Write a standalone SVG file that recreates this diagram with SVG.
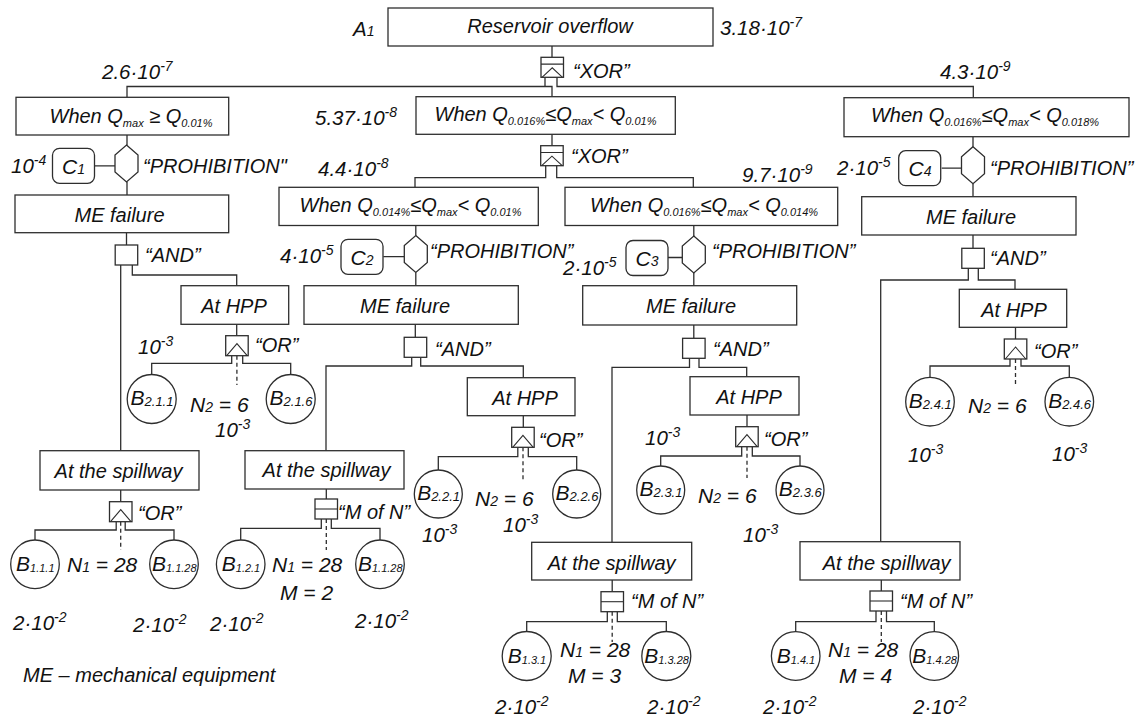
<svg xmlns="http://www.w3.org/2000/svg" xmlns:xlink="http://www.w3.org/1999/xlink" width="1141" height="719" viewBox="0 0 1141 719">
<style>
.ln{fill:none;stroke:#2e2e2e;stroke-width:1.3}
.bx{fill:#fff;stroke:#2e2e2e;stroke-width:1.3}
.gl{fill:none;stroke:#2e2e2e;stroke-width:1.1}
.dash{stroke-dasharray:4 3}
text{font-family:"Liberation Sans",Arial,sans-serif;font-style:italic;font-size:20px;fill:#111}
.n{font-size:20.5px}
.s{font-size:11px}
.sp{font-size:14px}
.bt{font-size:21px}
.bs{font-size:13px}
.bs2{font-size:11px}
.cs{font-size:14px}
.nl{font-size:21px}
</style>
<defs>
<g id="xor"><rect class="bx" width="22.5" height="20"/><path class="gl" d="M0 6.8H22.5M1 20L11.25 10.5L21.5 20"/></g>
<g id="or"><rect class="bx" width="22.5" height="20"/><path class="gl" d="M1 20L11.25 8L21.5 20"/></g>
<g id="and"><rect class="bx" width="22.5" height="20"/></g>
<g id="mofn"><rect class="bx" width="22.5" height="20"/><path class="gl" d="M0 10H22.5"/></g>
<polygon id="hex" class="bx" points="11.5,0 23,10 23,27 11.5,37 0,27 0,10"/>
<rect id="cbox" class="bx" width="42" height="35" rx="7"/>
</defs>

<g id="connectors">
<path class="ln" d="M552 46V57.3M127 97.3V86.5H552V96.7M545 77.3V86.5M557 77.3V86.5H973.3V97.7"/>
<path class="ln" d="M552 134.3V145.7M545.7 165.7V177.7H415V187.3M556.7 165.7V177.7H693.3V187.3"/>
<path class="ln" d="M127 135V145M127 182V195M126.5 232.7V245M94 165.8H115"/>
<path class="ln" d="M120.7 265V450.7M132.3 265V275H236.7V285.7"/>
<path class="ln" d="M236.7 324.3V335.7M231.7 355.7V363.3H151.7V374.5M242.7 355.7V363.3H290.7V374.5"/>
<path class="ln dash" d="M236.9 355.7V385"/>
<path class="ln" d="M120.7 490V501.7M116.2 521.7V530H35V540M125.2 521.7V530H174V540"/>
<path class="ln dash" d="M120.7 521.7V550"/>
<path class="ln" d="M415.8 225.5V235.5M415.8 272.5V285.7M415.3 324.3V337.3M383.3 256.7H404.3"/>
<path class="ln" d="M411.7 357.3V366H326V450.7M420.7 357.3V366H523.3V377.7"/>
<path class="ln" d="M523.3 415.7V427.3M517.8 447.3V456.7H438.3V470M528.3 447.3V456.7H576.7V470"/>
<path class="ln dash" d="M523 447.3V480"/>
<path class="ln" d="M326.3 489V499M321.3 519V528.3H240.7V540M331.3 519V528.3H380V540"/>
<path class="ln dash" d="M326.3 519V550"/>
<path class="ln" d="M693.8 225.5V236M693.8 273V285.7M693.8 325V338.3M667.3 257.5H682.3"/>
<path class="ln" d="M689.5 358.3V367.3H612V542.3M699 358.3V367.3H746.7V376.7"/>
<path class="ln" d="M747 415V426.7M741.7 446.7V456H660.7V466M752.3 446.7V456H800V466"/>
<path class="ln dash" d="M747 446.7V478"/>
<path class="ln" d="M612.2 580V591.7M607.3 611.7V621.7H526.7V631.5M617.3 611.7V621.7H666.3V631.5"/>
<path class="ln dash" d="M612.2 611.7V642"/>
<path class="ln" d="M973 136.7V146.7M973 183.7V196.7M973 235V248.3M941.7 168.2H961.5"/>
<path class="ln" d="M968.3 268.3V280H880.7V541.7M978.3 268.3V280H1015V289.3"/>
<path class="ln" d="M1015.5 327.3V339M1010 359V366H930V377.5M1021 359V366H1069.3V377.5"/>
<path class="ln dash" d="M1015.5 359V386.7"/>
<path class="ln" d="M881.3 580V591M876 611V621.7H795.7V631.7M886.5 611V621.7H934.3V631.7"/>
<path class="ln dash" d="M881.3 611V642"/>
</g>

<g id="top">
<rect class="bx" x="388" y="8" width="325" height="38"/>
<text x="550" y="33" text-anchor="middle">Reservoir overflow</text>
<text x="353" y="36" class="n">A<tspan class="sp">1</tspan></text>
<text x="720" y="35" class="n">3.18·10<tspan class="sp" dy="-8">-7</tspan></text>
</g>
<g id="xor1"><use href="#xor" x="541" y="57.3"/><text x="573" y="78">“XOR”</text></g>

<g id="q1">
<rect class="bx" x="16" y="97.3" width="212.7" height="37.7"/>
<text x="131" y="123" text-anchor="middle">When Q<tspan class="s" dy="4">max</tspan><tspan dy="-4"> ≥ Q</tspan><tspan class="s" dy="4">0.01%</tspan></text>
<text x="102" y="79" class="n">2.6·10<tspan class="sp" dy="-8">-7</tspan></text>
</g>
<g id="q2">
<rect class="bx" x="416" y="96.7" width="259.3" height="37.6"/>
<text x="545.5" y="121" text-anchor="middle">When Q<tspan class="s" dy="4">0.016%</tspan><tspan dy="-4">≤Q</tspan><tspan class="s" dy="4">max</tspan><tspan dy="-4">&lt; Q</tspan><tspan class="s" dy="4">0.01%</tspan></text>
<text x="315" y="125" class="n">5.37·10<tspan class="sp" dy="-8">-8</tspan></text>
</g>
<g id="q3">
<rect class="bx" x="844" y="97.7" width="285" height="39"/>
<text x="985" y="122" text-anchor="middle">When Q<tspan class="s" dy="4">0.016%</tspan><tspan dy="-4">≤Q</tspan><tspan class="s" dy="4">max</tspan><tspan dy="-4">&lt; Q</tspan><tspan class="s" dy="4">0.018%</tspan></text>
<text x="940" y="79" class="n">4.3·10<tspan class="sp" dy="-8">-9</tspan></text>
</g>
<g id="xor2"><use href="#xor" x="540.7" y="145.7"/><text x="571" y="163">“XOR”</text></g>
<g id="q4">
<rect class="bx" x="279" y="187.3" width="259.3" height="38.2"/>
<text x="410.5" y="212" text-anchor="middle">When Q<tspan class="s" dy="4">0.014%</tspan><tspan dy="-4">≤Q</tspan><tspan class="s" dy="4">max</tspan><tspan dy="-4">&lt; Q</tspan><tspan class="s" dy="4">0.01%</tspan></text>
<text x="318" y="176" class="n">4.4·10<tspan class="sp" dy="-8">-8</tspan></text>
</g>
<g id="q5">
<rect class="bx" x="565" y="187.3" width="272.7" height="38.2"/>
<text x="704" y="212" text-anchor="middle">When Q<tspan class="s" dy="4">0.016%</tspan><tspan dy="-4">≤Q</tspan><tspan class="s" dy="4">max</tspan><tspan dy="-4">&lt; Q</tspan><tspan class="s" dy="4">0.014%</tspan></text>
<text x="742" y="181.5" class="n">9.7·10<tspan class="sp" dy="-8">-9</tspan></text>
</g>

<g id="c1"><use href="#cbox" x="52.5" y="148.3"/><text x="73.5" y="173.5" text-anchor="middle" class="bt">C<tspan class="cs">1</tspan></text><text x="11" y="173" class="n">10<tspan class="sp" dy="-8">-4</tspan></text></g>
<g id="p1"><use href="#hex" x="115" y="145"/><text x="143" y="173">“PROHIBITION"</text></g>
<g id="c2"><use href="#cbox" x="341" y="239.3"/><text x="362" y="264.5" text-anchor="middle" class="bt">C<tspan class="cs">2</tspan></text><text x="280" y="263" class="n">4·10<tspan class="sp" dy="-8">-5</tspan></text></g>
<g id="p2"><use href="#hex" x="404.3" y="235.5"/><text x="430" y="258">“PROHIBITION”</text></g>
<g id="c3"><use href="#cbox" x="626" y="240.5"/><text x="647" y="265.5" text-anchor="middle" class="bt">C<tspan class="cs">3</tspan></text><text x="563" y="275" class="n">2·10<tspan class="sp" dy="-8">-5</tspan></text></g>
<g id="p3"><use href="#hex" x="682.3" y="236"/><text x="712" y="258">“PROHIBITION”</text></g>
<g id="c4"><use href="#cbox" x="898.7" y="150.7"/><text x="920" y="176" text-anchor="middle" class="bt">C<tspan class="cs">4</tspan></text><text x="837" y="175" class="n">2·10<tspan class="sp" dy="-8">-5</tspan></text></g>
<g id="p4"><use href="#hex" x="961.5" y="146.7"/><text x="990" y="175">“PROHIBITION”</text></g>

<g id="me1"><rect class="bx" x="15" y="195" width="213.7" height="37.7"/><text x="119.5" y="221.5" text-anchor="middle">ME failure</text></g>
<g id="me2"><rect class="bx" x="304" y="285.7" width="214.3" height="38.6"/><text x="405" y="312.5" text-anchor="middle">ME failure</text></g>
<g id="me3"><rect class="bx" x="582.7" y="285.7" width="214" height="39.3"/><text x="691" y="312.5" text-anchor="middle">ME failure</text></g>
<g id="me4"><rect class="bx" x="861.7" y="196.7" width="214.3" height="38.3"/><text x="971" y="224" text-anchor="middle">ME failure</text></g>

<g id="and1"><use href="#and" x="115.2" y="245"/><text x="145" y="262">“AND”</text></g>
<g id="and2"><use href="#and" x="404.2" y="337.3"/><text x="435" y="356">“AND”</text></g>
<g id="and3"><use href="#and" x="682.6" y="338.3"/><text x="713" y="356">“AND”</text></g>
<g id="and4"><use href="#and" x="961.8" y="248.3"/><text x="990" y="265">“AND”</text></g>

<g id="hpp1"><rect class="bx" x="181" y="285.7" width="107.7" height="38.6"/><text x="234" y="312.5" text-anchor="middle">At HPP</text></g>
<g id="hpp2"><rect class="bx" x="467.3" y="377.7" width="107.7" height="38"/><text x="525" y="404.5" text-anchor="middle">At HPP</text></g>
<g id="hpp3"><rect class="bx" x="690" y="376.7" width="109" height="38.3"/><text x="749" y="404" text-anchor="middle">At HPP</text></g>
<g id="hpp4"><rect class="bx" x="959.3" y="289.3" width="107.4" height="38"/><text x="1014" y="316.5" text-anchor="middle">At HPP</text></g>

<g id="or1"><use href="#or" x="225.7" y="335.7"/><text x="255" y="352">“OR”</text><text x="138" y="354" class="n">10<tspan class="sp" dy="-8">-3</tspan></text></g>
<g id="or2"><use href="#or" x="511.7" y="427.3"/><text x="539" y="447">“OR”</text></g>
<g id="or3"><use href="#or" x="735.7" y="426.7"/><text x="764" y="446">“OR”</text><text x="645" y="445" class="n">10<tspan class="sp" dy="-8">-3</tspan></text></g>
<g id="or4"><use href="#or" x="1004.3" y="339"/><text x="1034" y="358">“OR”</text></g>
<g id="or5"><use href="#or" x="109.5" y="501.7"/><text x="138" y="520">“OR”</text></g>
<g id="mofn2"><use href="#mofn" x="315" y="499"/><text x="338" y="519">“M of N”</text></g>
<g id="mofn3"><use href="#mofn" x="601" y="591.7"/><text x="631" y="608">“M of N”</text></g>
<g id="mofn4"><use href="#mofn" x="870" y="591"/><text x="900" y="608">“M of N”</text></g>

<g id="sp1"><rect class="bx" x="40" y="450.7" width="159" height="39.3"/><text x="118.5" y="478" text-anchor="middle">At the spillway</text></g>
<g id="sp2"><rect class="bx" x="245" y="450.7" width="159" height="38.3"/><text x="326.5" y="477" text-anchor="middle">At the spillway</text></g>
<g id="sp3"><rect class="bx" x="531.7" y="542.3" width="160" height="37.7"/><text x="611.7" y="569.5" text-anchor="middle">At the spillway</text></g>
<g id="sp4"><rect class="bx" x="800" y="541.7" width="160" height="38.3"/><text x="886.7" y="569.5" text-anchor="middle">At the spillway</text></g>

<g id="b211"><circle class="bx" cx="151.7" cy="399" r="24.5"/><text x="152" y="405" text-anchor="middle" class="bt">B<tspan class="bs" dy="1">2.1.1</tspan></text></g>
<g id="b216"><circle class="bx" cx="290.7" cy="399" r="24.5"/><text x="291" y="405" text-anchor="middle" class="bt">B<tspan class="bs" dy="1">2.1.6</tspan></text></g>
<g id="lbl1"><text x="190" y="412" class="nl">N<tspan class="cs">2</tspan> = 6</text><text x="215" y="437" class="n">10<tspan class="sp" dy="-8">-3</tspan></text></g>

<g id="b221"><circle class="bx" cx="438.3" cy="494" r="24"/><text x="438.6" y="500" text-anchor="middle" class="bt">B<tspan class="bs" dy="1">2.2.1</tspan></text></g>
<g id="b226"><circle class="bx" cx="576.7" cy="494" r="24"/><text x="577" y="500" text-anchor="middle" class="bt">B<tspan class="bs" dy="1">2.2.6</tspan></text></g>
<g id="lbl2"><text x="475" y="506" class="nl">N<tspan class="cs">2</tspan> = 6</text><text x="503" y="532" class="n">10<tspan class="sp" dy="-8">-3</tspan></text><text x="422" y="542" class="n">10<tspan class="sp" dy="-8">-3</tspan></text></g>

<g id="b231"><circle class="bx" cx="660.7" cy="490" r="24"/><text x="661" y="496" text-anchor="middle" class="bt">B<tspan class="bs" dy="1">2.3.1</tspan></text></g>
<g id="b236"><circle class="bx" cx="800" cy="490" r="24"/><text x="800.3" y="496" text-anchor="middle" class="bt">B<tspan class="bs" dy="1">2.3.6</tspan></text></g>
<g id="lbl3"><text x="698" y="503" class="nl">N<tspan class="cs">2</tspan> = 6</text><text x="743" y="542" class="n">10<tspan class="sp" dy="-8">-3</tspan></text></g>

<g id="b241"><circle class="bx" cx="930" cy="401.7" r="24.3"/><text x="930.3" y="407.5" text-anchor="middle" class="bt">B<tspan class="bs" dy="1">2.4.1</tspan></text></g>
<g id="b246"><circle class="bx" cx="1069.3" cy="401.7" r="24.3"/><text x="1069.6" y="407.5" text-anchor="middle" class="bt">B<tspan class="bs" dy="1">2.4.6</tspan></text></g>
<g id="lbl4"><text x="968" y="413" class="nl">N<tspan class="cs">2</tspan> = 6</text><text x="908" y="462" class="n">10<tspan class="sp" dy="-8">-3</tspan></text><text x="1052" y="461" class="n">10<tspan class="sp" dy="-8">-3</tspan></text></g>

<g id="b111"><circle class="bx" cx="35" cy="564.3" r="24.3"/><text x="35.3" y="571" text-anchor="middle" class="bt">B<tspan class="bs2" dy="1">1.1.1</tspan></text></g>
<g id="b1128a"><circle class="bx" cx="174" cy="564.3" r="24.3"/><text x="174.3" y="571" text-anchor="middle" class="bt">B<tspan class="bs2" dy="1">1.1.28</tspan></text></g>
<g id="lbl5"><text x="67" y="572" class="nl">N<tspan class="cs">1</tspan> = 28</text><text x="13" y="630" class="n">2·10<tspan class="sp" dy="-8">-2</tspan></text><text x="133" y="632" class="n">2·10<tspan class="sp" dy="-8">-2</tspan></text></g>

<g id="b121"><circle class="bx" cx="240.7" cy="564.3" r="24.3"/><text x="241" y="571" text-anchor="middle" class="bt">B<tspan class="bs2" dy="1">1.2.1</tspan></text></g>
<g id="b1128b"><circle class="bx" cx="380" cy="564.3" r="24.3"/><text x="380.3" y="571" text-anchor="middle" class="bt">B<tspan class="bs2" dy="1">1.1.28</tspan></text></g>
<g id="lbl6"><text x="272" y="572" class="nl">N<tspan class="cs">1</tspan> = 28</text><text x="280" y="600" class="nl">M = 2</text><text x="210" y="631" class="n">2·10<tspan class="sp" dy="-8">-2</tspan></text><text x="355" y="628" class="n">2·10<tspan class="sp" dy="-8">-2</tspan></text></g>

<g id="b131"><circle class="bx" cx="526.7" cy="656" r="24.5"/><text x="527" y="663" text-anchor="middle" class="bt">B<tspan class="bs2" dy="1">1.3.1</tspan></text></g>
<g id="b1328"><circle class="bx" cx="666.3" cy="656" r="24.5"/><text x="666.6" y="663" text-anchor="middle" class="bt">B<tspan class="bs2" dy="1">1.3.28</tspan></text></g>
<g id="lbl7"><text x="560" y="657" class="nl">N<tspan class="cs">1</tspan> = 28</text><text x="568" y="683" class="nl">M = 3</text><text x="495" y="714" class="n">2·10<tspan class="sp" dy="-8">-2</tspan></text><text x="647" y="714" class="n">2·10<tspan class="sp" dy="-8">-2</tspan></text></g>

<g id="b141"><circle class="bx" cx="795.7" cy="656" r="24.3"/><text x="796" y="663" text-anchor="middle" class="bt">B<tspan class="bs2" dy="1">1.4.1</tspan></text></g>
<g id="b1428"><circle class="bx" cx="934.3" cy="656" r="24.3"/><text x="934.6" y="663" text-anchor="middle" class="bt">B<tspan class="bs2" dy="1">1.4.28</tspan></text></g>
<g id="lbl8"><text x="828" y="657" class="nl">N<tspan class="cs">1</tspan> = 28</text><text x="839" y="683" class="nl">M = 4</text><text x="763" y="714" class="n">2·10<tspan class="sp" dy="-8">-2</tspan></text><text x="913" y="714" class="n">2·10<tspan class="sp" dy="-8">-2</tspan></text></g>

<g id="legend"><text x="23" y="682">ME – mechanical equipment</text></g>
</svg>
